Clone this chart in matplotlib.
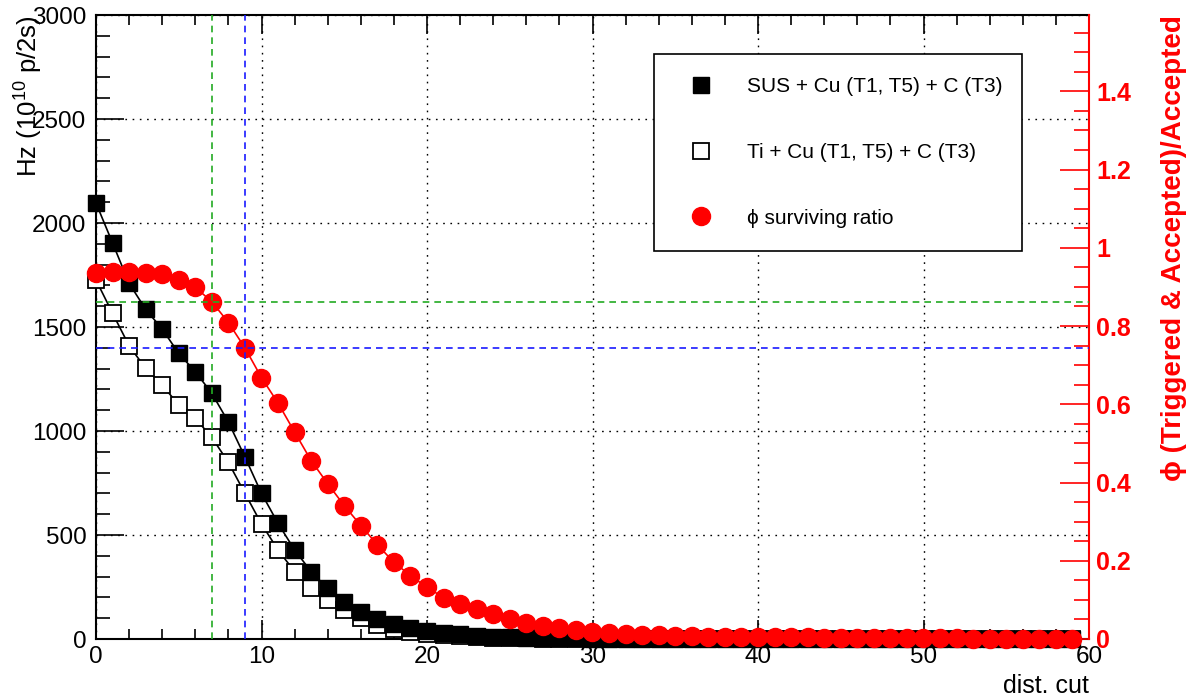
import matplotlib.pyplot as plt
from matplotlib.lines import Line2D
from matplotlib.ticker import MultipleLocator, FuncFormatter

plt.rcParams['font.family'] = ['Liberation Sans', 'DejaVu Sans']
plt.rcParams['mathtext.fontset'] = 'custom'
plt.rcParams['mathtext.rm'] = 'Liberation Sans'

dist_cut = list(range(60))

rate_sus = [2096, 1904, 1710, 1585, 1490, 1373, 1285, 1181, 1043, 875,
            700, 556, 428, 324, 243, 179, 131, 97, 72, 53,
            40, 30, 22, 16, 12, 9, 7, 5, 4, 3,
            2, 2, 1, 1, 1, 1, 0, 0, 0, 0,
            0, 0, 0, 0, 0, 0, 0, 0, 0, 0,
            0, 0, 0, 0, 0, 0, 0, 0, 0, 0]

rate_ti = [1726, 1566, 1410, 1301, 1221, 1125, 1061, 969, 849, 700,
           553, 428, 324, 244, 188, 139, 100, 67, 50, 36,
           26, 19, 13, 9, 7, 5, 3, 2, 2, 1,
           1, 1, 0, 0, 0, 0, 0, 0, 0, 0,
           0, 0, 0, 0, 0, 0, 0, 0, 0, 0,
           0, 0, 0, 0, 0, 0, 0, 0, 0, 0]

surviving_ratio = [0.936, 0.938, 0.938, 0.936, 0.932, 0.918, 0.899, 0.862, 0.809, 0.744,
                   0.668, 0.603, 0.529, 0.456, 0.397, 0.341, 0.290, 0.241, 0.196, 0.162,
                   0.132, 0.106, 0.090, 0.076, 0.063, 0.050, 0.040, 0.033, 0.027, 0.023,
                   0.019, 0.015, 0.013, 0.011, 0.009, 0.008, 0.007, 0.006, 0.006, 0.005,
                   0.005, 0.004, 0.004, 0.004, 0.003, 0.003, 0.003, 0.003, 0.002, 0.002,
                   0.002, 0.002, 0.002, 0.001, 0.001, 0.001, 0.001, 0.001, 0.001, 0.001]

cut_low = 7
cut_high = 9

labels = ["SUS + Cu (T1, T5) + C (T3)",
          "Ti + Cu (T1, T5) + C (T3)",
          "\u03d5 surviving ratio"]

fig = plt.figure(figsize=(11.89, 6.97), dpi=100)
ax = fig.add_axes([96 / 1189, 1 - 639 / 697, 993 / 1189, 624 / 697])
ax2 = ax.twinx()

ax.set_xlim(0, 60)
ax.set_ylim(0, 3000)
ax2.set_ylim(0, 1.595)

dot = (0, (1.2, 4))
ax.grid(True, which='major', color='black', linestyle=dot, linewidth=1)
ax.set_axisbelow(True)

ax.plot(dist_cut, rate_ti, color='black', lw=1.2, marker='s', ms=12,
        mfc='white', mec='black', mew=1.3, clip_on=False, zorder=3)
ax.plot(dist_cut, rate_sus, color='black', lw=1.2, marker='s', ms=12,
        mfc='black', mec='black', clip_on=False, zorder=4)
ax2.plot(dist_cut, surviving_ratio, color='red', lw=1.2, marker='o', ms=13,
         mfc='red', mec='red', clip_on=False, zorder=3)

dash = (0, (4, 3))
ax2.axvline(cut_low, color='#22aa22', lw=1.2, ls=dash, zorder=5)
ax2.axvline(cut_high, color='#1a1aff', lw=1.2, ls=dash, zorder=5)
ax2.axhline(surviving_ratio[cut_low], color='#22aa22', lw=1.2, ls=dash, zorder=5)
ax2.axhline(surviving_ratio[cut_high], color='#1a1aff', lw=1.2, ls=dash, zorder=5)

ax.xaxis.set_major_locator(MultipleLocator(10))
ax.xaxis.set_minor_locator(MultipleLocator(2))
ax.yaxis.set_major_locator(MultipleLocator(500))
ax.yaxis.set_minor_locator(MultipleLocator(100))
ax2.yaxis.set_major_locator(MultipleLocator(0.2))
ax2.yaxis.set_minor_locator(MultipleLocator(0.05))
ax2.yaxis.set_major_formatter(FuncFormatter(lambda v, _: f"{v:g}"))

ax.tick_params(axis='x', which='both', direction='in', top=True, bottom=True,
               labelsize=17.5, pad=5, width=1.2)
ax.tick_params(axis='x', which='major', length=13.5)
ax.tick_params(axis='x', which='minor', length=7)
ax.tick_params(axis='y', which='both', direction='in', left=True, right=False,
               labelsize=17.5, pad=7, width=1.2)
ax.tick_params(axis='y', which='major', length=20)
ax.tick_params(axis='y', which='minor', length=10)
ax2.tick_params(axis='y', which='both', direction='in', colors='red',
                labelsize=18, pad=5, width=1.2)
ax2.tick_params(axis='y', which='major', length=21)
ax2.tick_params(axis='y', which='minor', length=10.5)
for t in ax2.get_yticklabels():
    t.set_fontweight('bold')

for s in ['left', 'bottom', 'top']:
    ax.spines[s].set_linewidth(1.5)
ax.spines['right'].set_visible(False)
for s in ['left', 'bottom', 'top']:
    ax2.spines[s].set_visible(False)
ax2.spines['right'].set_color('red')
ax2.spines['right'].set_linewidth(1.5)

ax.set_xlabel("dist. cut", fontsize=18, loc='right')
ax.xaxis.set_label_coords(1.0, -0.056)
ax.set_ylabel("Hz (10$^{10}$ p/2s)", fontsize=18.5, loc='top')
ax.yaxis.set_label_coords(-0.052, 1.0)
ax2.set_ylabel("\u03d5 (Triggered & Accepted)/Accepted", fontsize=20,
               color='red', fontweight='bold', loc='top')
ax2.yaxis.set_label_coords(1.073, 1.0)

handles = [
    Line2D([], [], ls='none', marker='s', ms=12, mfc='black', mec='black'),
    Line2D([], [], ls='none', marker='s', ms=12, mfc='white', mec='black', mew=1.3),
    Line2D([], [], ls='none', marker='o', ms=13, mfc='red', mec='red'),
]
leg = ax2.legend(handles, labels, loc='upper left',
                 bbox_to_anchor=(654 / 1189, 1 - 54 / 697, 368 / 1189, 0.0),
                 bbox_transform=fig.transFigure, mode='expand',
                 fontsize=15, frameon=True, fancybox=False, framealpha=1,
                 edgecolor='black', borderpad=1.12, labelspacing=2.24,
                 handlelength=2.26, handletextpad=1.08, borderaxespad=0)
leg.get_frame().set_linewidth(1.2)
leg.set_zorder(10)

fig.savefig("out.png", dpi=100)
